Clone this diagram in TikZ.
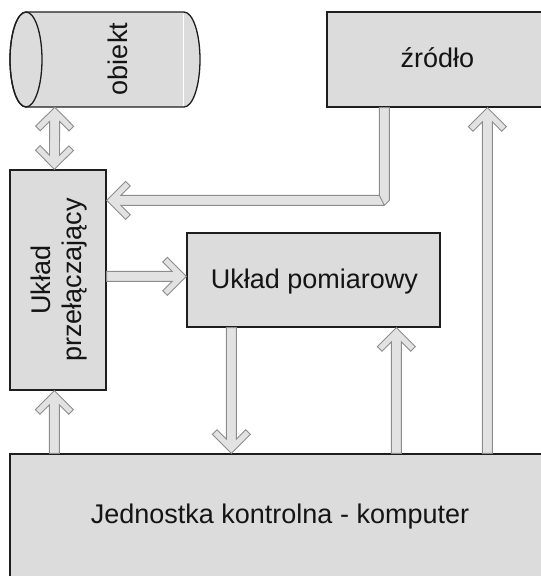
\documentclass[tikz,border=0pt]{standalone}
\usepackage{fontspec}
\setmainfont{Liberation Sans}
\usetikzlibrary{calc}
\definecolor{boxfill}{HTML}{DCDCDC}
\definecolor{boxline}{HTML}{1E1E1E}
\definecolor{arrfill}{HTML}{E2E2E2}
\definecolor{arrline}{HTML}{8C8C8C}
\definecolor{txt}{HTML}{141414}

% single-headed fat arrow from #1 to #2 (tip at #2)
\newcommand\fatarrow[2]{%
  \path let \p1=(#1), \p2=(#2), \n1={atan2(\y2-\y1,\x2-\x1)}, \n2={veclen(\x2-\x1,\y2-\y1)} in
    \pgfextra{\xdef\FAang{\n1}\xdef\FAlen{\n2}\xdef\FAx{\x2}\xdef\FAy{\y2}};
  \begin{scope}[shift={(\FAx,\FAy)}, rotate=\FAang]
    \draw[fatline] (0pt,0pt) -- (-19pt,19pt) -- (-23.6pt,14.4pt) -- (-14.2pt,5pt)
      -- (-\FAlen,5pt) -- (-\FAlen,-5pt) -- (-14.2pt,-5pt) -- (-23.6pt,-14.4pt)
      -- (-19pt,-19pt) -- cycle;
  \end{scope}}
% double-headed fat arrow between #1 and #2
\newcommand\fatdarrow[2]{%
  \path let \p1=(#1), \p2=(#2), \n1={atan2(\y2-\y1,\x2-\x1)}, \n2={veclen(\x2-\x1,\y2-\y1)} in
    \pgfextra{\xdef\FAang{\n1}\xdef\FAlen{\n2}\xdef\FAx{\x2}\xdef\FAy{\y2}};
  \begin{scope}[shift={(\FAx,\FAy)}, rotate=\FAang]
    \draw[fatline] (0pt,0pt) -- (-19pt,19pt) -- (-23.6pt,14.4pt) -- (-14.2pt,5pt)
      -- (-\FAlen+14.2pt,5pt) -- (-\FAlen+23.6pt,14.4pt) -- (-\FAlen+19pt,19pt)
      -- (-\FAlen,0pt)
      -- (-\FAlen+19pt,-19pt) -- (-\FAlen+23.6pt,-14.4pt) -- (-\FAlen+14.2pt,-5pt)
      -- (-14.2pt,-5pt) -- (-23.6pt,-14.4pt) -- (-19pt,-19pt) -- cycle;
  \end{scope}}

\begin{document}
\begin{tikzpicture}[x=1pt,y=-1pt,
  box/.style={draw=boxline, fill=boxfill, line width=1.3pt, inner sep=0pt, rectangle},
  ghost/.style={inner sep=0pt, rectangle},
  fatline/.style={draw=arrline, fill=arrfill, line width=0.9pt, line join=miter},
  lbl/.style={text=txt, inner sep=0pt, font=\fontsize{27}{31}\selectfont}]
\useasboundingbox (0,0) rectangle (541,576);
\clip (0,0) rectangle (541,576);

% boxes
\node[box, minimum width=221pt, minimum height=95pt] (zr) at (437.5,59.5) {};
\node[box, minimum width=253pt, minimum height=94pt] (pm) at (313.5,280) {};
\node[box, minimum width=96pt, minimum height=220pt] (sw) at (58,280) {};
\node[box, minimum width=550pt, minimum height=146pt] (jk) at (285,527) {};

% cylinder "obiekt"
\node[ghost, minimum width=190pt, minimum height=95pt] (cyl) at (105,59.5) {};
\draw[draw=boxline, fill=boxfill, line width=1.3pt]
  (26,12) -- (184,12) arc[start angle=90, end angle=-90, x radius=16pt, y radius=47.5pt]
  -- (26,107) arc[start angle=270, end angle=90, x radius=16pt, y radius=47.5pt] -- cycle;
\draw[draw=boxline, line width=1.3pt] (26,59.5) ellipse [x radius=16pt, y radius=47.5pt];
\draw[white, line width=1pt] (183.5,13.5) -- (183.5,105.5);

% labels
\node[lbl, anchor=base, rotate=90] (tob) at (127,59) {obiekt};
\node[lbl, anchor=base] (tzr) at (437.5,67) {źródło};
\node[lbl, anchor=base] (tpm) at (314.5,288) {Układ pomiarowy};
\node[lbl, anchor=base] (tjk) at (280,523) {Jednostka kontrolna - komputer};
\node[lbl, rotate=90, align=center] (tsw) at (59.5,280) {Układ\\przełączający};

% connectors
\coordinate (a1s) at ($(cyl.south west)+(45,0)$);
\coordinate (a1e) at ($(sw.north west)+(45,0)$);
\fatdarrow{a1s}{a1e}

\coordinate (bS) at ($(zr.south west)+(58,0)$);
\coordinate (bE) at ($(sw.north east)+(0,31)$);
\draw[fatline] let \p1=(bS), \p3=(bE) in
  (\x1-5pt,\y1) -- (\x1-5pt,\y3+5pt) -- (\x3+14.2pt,\y3+5pt) -- (\x3+23.6pt,\y3+14.4pt)
  -- (\x3+19pt,\y3+19pt) -- (\x3,\y3) -- (\x3+19pt,\y3-19pt) -- (\x3+23.6pt,\y3-14.4pt)
  -- (\x3+14.2pt,\y3-5pt) -- (\x1,\y3-5pt) -- (\x1+5pt,\y3) -- (\x1+5pt,\y1) -- cycle
  (\x1-5pt,\y3+5pt) -- (\x1,\y3-5pt);

\coordinate (a3s) at ($(sw.north east)+(0,107)$);
\coordinate (a3e) at (a3s -| pm.west);
\fatarrow{a3s}{a3e}

\coordinate (a4s) at ($(jk.north west)+(45,0)$);
\coordinate (a4e) at (a4s |- sw.south);
\fatarrow{a4s}{a4e}

\coordinate (a5s) at ($(pm.south west)+(45,0)$);
\coordinate (a5e) at (a5s |- jk.north);
\fatarrow{a5s}{a5e}

\coordinate (a6e) at ($(pm.south west)+(210,0)$);
\coordinate (a6s) at (a6e |- jk.north);
\fatarrow{a6s}{a6e}

\coordinate (a7e) at ($(zr.south west)+(161,0)$);
\coordinate (a7s) at (a7e |- jk.north);
\fatarrow{a7s}{a7e}
\end{tikzpicture}
\end{document}
